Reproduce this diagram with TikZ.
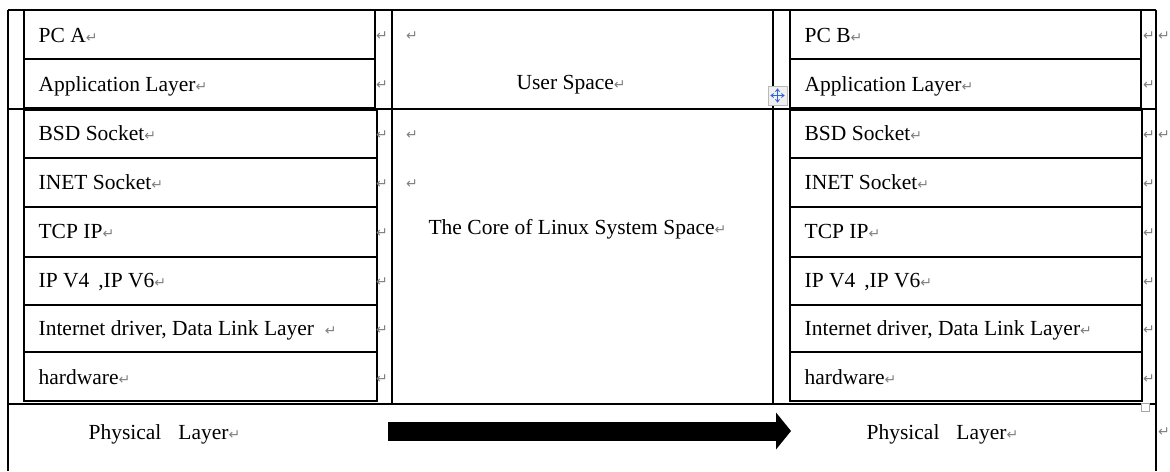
\documentclass[tikz,border=0pt]{standalone}
\usepackage{fontspec}
\setmainfont{Liberation Serif}
\newfontfamily\retfont{DejaVu Sans}
\usetikzlibrary{arrows.meta}
\definecolor{retgray}{gray}{0.5}
\definecolor{handleblue}{RGB}{50,100,215}
\newcommand\rt{{\retfont\fontsize{7}{8}\selectfont\color{retgray}↵}}
\begin{document}
\begin{tikzpicture}[x=0.5pt,y=-0.5pt,line width=0.6pt,
  txt/.style={anchor=base west,inner sep=0pt,font=\fontsize{10.75}{13}\selectfont},
  mk/.style={anchor=base,inner sep=0pt,font=\retfont\fontsize{7}{8}\selectfont,text=retgray},
  bigarrow/.style={line width=9.5pt,-{Triangle[length=7.5pt,width=18.5pt,line width=0pt]}}]
\useasboundingbox (0,0) rectangle (1170,471);
% outer table
\draw (8,10) -- (1156,10);
\draw (8,10) -- (8,471);
\draw (1156,10) -- (1156,471);
\draw (8,109) -- (1156,109);
\draw (8,404) -- (1156,404);
\draw (392,10) -- (392,404);
\draw (773,10) -- (773,404);
% left inner tables
\draw (24,10) rectangle (375,108);
\draw (24,59) -- (375,59);
\draw (24,110) rectangle (377,401);
\foreach \y in {158,207,257,305,352} \draw (24,\y) -- (377,\y);
% right inner tables
\draw (790,10) rectangle (1141,108);
\draw (790,59) -- (1141,59);
\draw (790,110) rectangle (1142,401);
\foreach \y in {158,207,257,305,352} \draw (790,\y) -- (1142,\y);
% left texts
\node[txt] (pca) at (38,42) {PC A\rt};
\node[txt] (appa) at (38,91) {Application Layer\rt};
\node[txt] (bsda) at (38,140) {BSD Socket\rt};
\node[txt] (ineta) at (38,189) {INET Socket\rt};
\node[txt] (tcpa) at (38,238) {TCP IP\rt};
\node[txt] (ipa) at (38,287) {IP V4 \,,IP V6\rt};
\node[txt] (dla) at (38,335) {Internet driver, Data Link Layer \ \rt};
\node[txt] (hwa) at (38,384) {hardware\rt};
% right texts
\node[txt] (pcb) at (804,42) {PC B\rt};
\node[txt] (appb) at (804,91) {Application Layer\rt};
\node[txt] (bsdb) at (804,140) {BSD Socket\rt};
\node[txt] (inetb) at (804,189) {INET Socket\rt};
\node[txt] (tcpb) at (804,238) {TCP IP\rt};
\node[txt] (ipb) at (804,287) {IP V4 \,,IP V6\rt};
\node[txt] (dlb) at (804,335) {Internet driver, Data Link Layer\rt};
\node[txt] (hwb) at (804,384) {hardware\rt};
% middle texts
\node[txt] (user) at (516,89) {User Space\rt};
\node[txt] (core) at (428,234) {The Core of Linux System Space\rt};
\node[mk] (m1) at (412,40) {↵};
\node[mk] (m2) at (412,139) {↵};
\node[mk] (m3) at (412,188) {↵};
% row end marks
\foreach \y [count=\i] in {40,89,139,188,237,286,334,383} {
  \node[mk] (lm\i) at (382,\y) {↵};
  \node[mk] (rm\i) at (1149,\y) {↵};
}
\node[mk] (ro1) at (1164,40) {↵};
\node[mk] (ro2) at (1164,139) {↵};
\node[mk] (ro3) at (1164,436) {↵};
% physical layer row
\node[txt] (phya) at (88,439) {Physical\hspace{8.5pt}Layer\rt};
\node[txt] (phyb) at (866,439) {Physical\hspace{8.5pt}Layer\rt};
\coordinate (aS) at (388,431);
\coordinate (aE) at (791,431);
\draw[bigarrow] (aS) -- (aE);
% Word table handles
\node[draw=gray!55,fill=gray!12,line width=0.5pt,minimum size=9.5pt,inner sep=0pt] (move) at (777.5,95.5) {};
\draw[handleblue,line width=0.6pt,{Stealth[length=1.8pt,width=2.6pt]}-{Stealth[length=1.8pt,width=2.6pt]}]
  ([xshift=-3.6pt]move.center) -- ([xshift=3.6pt]move.center);
\draw[handleblue,line width=0.6pt,{Stealth[length=1.8pt,width=2.6pt]}-{Stealth[length=1.8pt,width=2.6pt]}]
  ([yshift=-3.6pt]move.center) -- ([yshift=3.6pt]move.center);
\node[draw=gray!70,fill=white,line width=0.5pt,minimum size=4pt,inner sep=0pt] (rsz) at (1145,407) {};
\end{tikzpicture}
\end{document}
